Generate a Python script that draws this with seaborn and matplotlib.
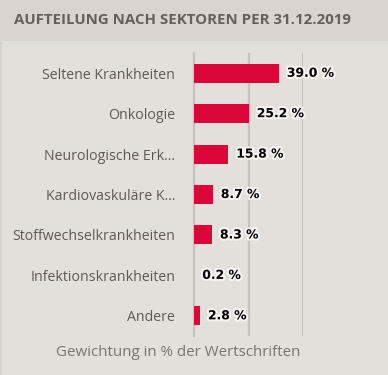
import matplotlib
matplotlib.use("Agg")
import matplotlib.pyplot as plt
import matplotlib.patheffects as pe
import seaborn as sns
import pandas as pd
import numpy as np

# data
sectors = ['Seltene Krankheiten', 'Onkologie', 'Neurologische Erk\u2026',
           'Kardiovaskuläre K\u2026', 'Stoffwechselkrankheiten',
           'Infektionskrankheiten', 'Andere']
weights = [39.0, 25.2, 15.8, 8.7, 8.3, 0.2, 2.8]
gridTicks = [25, 50]

title = 'AUFTEILUNG NACH SEKTOREN PER 31.12.2019'
xTitle = 'Gewichtung in % der Wertschriften'

headerCol = '#d9d4cf'
bodyCol = '#e3dfda'
barCol = '#dc0537'
lineCol = '#c6c2bd'
textCol = '#67605a'

df = pd.DataFrame({'sector': sectors, 'weight': weights})

sns.set_style('white')
plt.rcParams['font.family'] = ['Open Sans', 'DejaVu Sans']

fig = plt.figure(figsize=(3.88, 3.75), dpi=100)
fig.patch.set_facecolor(headerCol)

# lighter body panel below the header band
body = plt.Rectangle((2/388, 0), 1, 1 - 41/375, transform=fig.transFigure,
                     facecolor=bodyCol, edgecolor='none', zorder=-5)
fig.patches.append(body)

ax = fig.add_axes([194/388, 1 - 336/375, 109/388, 283/375])
ax.set_facecolor('none')

sns.barplot(data=df, x='weight', y='sector', color=barCol, width=0.47,
            saturation=1, linewidth=0, ax=ax, zorder=3)

ax.set_xlim(0, 50)
ax.set_ylim(len(sectors) - 0.5, -0.5)
ax.set_xticks(gridTicks)
ax.set_xticklabels([])
ax.tick_params(axis='x', length=0)
ax.grid(axis='x', color=lineCol, linewidth=1.6, zorder=0)
ax.grid(axis='y', visible=False)

# separators between categories drawn as outward minor ticks
ax.set_yticks(np.arange(-0.5, len(sectors), 1), minor=True)
ax.tick_params(axis='y', which='minor', length=12, width=1.6, color=lineCol)
ax.tick_params(axis='y', which='major', length=0, pad=13.5,
               labelsize=10.2, labelcolor='#5f5953')

for s in ['top', 'right', 'bottom']:
    ax.spines[s].set_visible(False)
ax.spines['left'].set_color(lineCol)
ax.spines['left'].set_linewidth(1.6)
ax.set_xlabel('')
ax.set_ylabel('')

for i, v in enumerate(weights):
    ax.text(v + 3.6, i, f'{v:.1f} %', va='center', ha='left', fontsize=8.9,
            fontweight='bold', color='black', zorder=5, clip_on=False,
            family='DejaVu Sans',
            path_effects=[pe.withStroke(linewidth=3, foreground='white', alpha=0.7)])

fig.text(14/388, 1 - 20/375, title, ha='left', va='center', fontsize=10.8,
         fontweight='bold', color=textCol)
fig.text(178/388, 1 - 352/375, xTitle, ha='center', va='center',
         fontsize=10.9, color='#7a746e')

fig.savefig('out.png', dpi=100, facecolor=fig.get_facecolor())
